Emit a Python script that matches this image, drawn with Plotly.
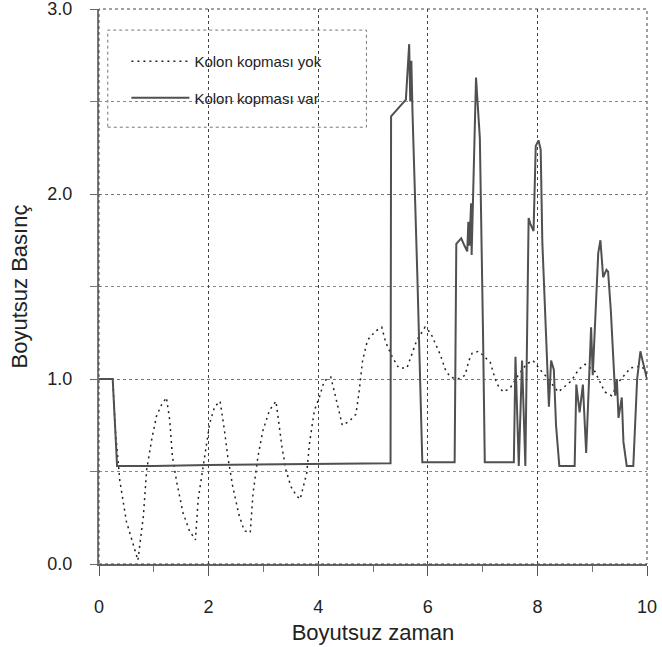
import plotly.graph_objects as go

# --- Kolon kopması yok (no column separation) ---
t_yok = [0, 0.25, 0.30, 0.38, 0.50, 0.59, 0.71, 0.81, 0.87, 0.96, 1.05, 1.14, 1.23, 1.29, 1.34,
         1.42, 1.53, 1.65, 1.76, 1.81, 1.87, 1.95, 2.02, 2.11, 2.21, 2.29, 2.35, 2.44, 2.55, 2.65,
         2.76, 2.81, 2.90, 2.99, 3.11, 3.23, 3.29, 3.34, 3.41, 3.50, 3.60, 3.67, 3.79, 3.84, 3.93,
         4.02, 4.11, 4.23, 4.32, 4.37, 4.44, 4.56, 4.69, 4.75, 4.81, 4.90, 5.05, 5.16, 5.23, 5.35,
         5.47, 5.62, 5.71, 5.80, 5.95, 6.05, 6.23, 6.32, 6.41, 6.55, 6.68, 6.75, 6.81, 6.93, 7.14,
         7.23, 7.29, 7.38, 7.50, 7.65, 7.80, 7.92, 8.05, 8.17, 8.38, 8.50, 8.62, 8.75, 8.87, 9.05,
         9.23, 9.35, 9.50, 9.70, 9.90, 10.0]
p_yok = [1.0, 1.0, 0.72, 0.45, 0.23, 0.14, 0.02, 0.26, 0.51, 0.67, 0.80, 0.86, 0.90, 0.78, 0.58,
         0.44, 0.28, 0.18, 0.13, 0.35, 0.47, 0.63, 0.76, 0.85, 0.88, 0.72, 0.58, 0.42, 0.27, 0.18,
         0.17, 0.38, 0.58, 0.72, 0.83, 0.88, 0.74, 0.63, 0.51, 0.42, 0.37, 0.35, 0.49, 0.65, 0.83,
         0.90, 0.99, 1.01, 0.90, 0.83, 0.75, 0.77, 0.81, 0.94, 1.10, 1.21, 1.26, 1.28, 1.20, 1.12,
         1.06, 1.06, 1.13, 1.21, 1.28, 1.25, 1.13, 1.05, 1.01, 1.00, 1.02, 1.10, 1.14, 1.15, 1.09,
         1.00, 0.96, 0.93, 0.95, 1.02, 1.08, 1.10, 1.05, 1.01, 0.93, 0.96, 0.99, 1.05, 1.08, 1.04,
         0.93, 0.91, 0.99, 1.06, 1.07, 1.03]

# --- Kolon kopması var (with column separation) ---
t_var = [0, 0.25, 0.33, 1.0, 2.0, 3.0, 4.0, 5.0, 5.32, 5.33, 5.60, 5.66, 5.68, 5.70, 5.72, 5.81,
         5.90, 6.20, 6.49, 6.52, 6.61, 6.67, 6.72, 6.74, 6.76, 6.79, 6.80, 6.88, 6.95, 7.01, 7.04,
         7.30, 7.57, 7.60, 7.66, 7.72, 7.78, 7.84, 7.87, 7.93, 7.97, 8.02, 8.06, 8.09, 8.12, 8.15,
         8.18, 8.21, 8.25, 8.30, 8.34, 8.40, 8.68, 8.71, 8.77, 8.83, 8.89, 8.95, 8.98, 9.01, 9.05,
         9.11, 9.15, 9.20, 9.26, 9.29, 9.34, 9.38, 9.42, 9.45, 9.48, 9.54, 9.57, 9.63, 9.75, 9.82,
         9.88, 9.91, 10.0]
p_var = [1.0, 1.0, 0.53, 0.53, 0.535, 0.537, 0.54, 0.545, 0.545, 2.42, 2.51, 2.81, 2.50, 2.72, 2.45, 1.55,
         0.55, 0.55, 0.55, 1.73, 1.76, 1.72, 1.69, 1.85, 1.72, 1.95, 1.67, 2.63, 2.30, 1.20, 0.55,
         0.55, 0.55, 1.12, 0.53, 1.10, 0.53, 1.87, 1.84, 1.80, 2.26, 2.29, 2.24, 1.74, 1.52, 1.30,
         1.11, 0.85, 1.10, 1.05, 0.75, 0.53, 0.53, 0.97, 0.82, 0.97, 0.60, 1.04, 1.28, 1.02, 1.30,
         1.68, 1.75, 1.55, 1.59, 1.58, 1.37, 1.12, 0.91, 1.00, 0.79, 0.90, 0.66, 0.53, 0.53, 1.00,
         1.15, 1.11, 1.00]

x_ticks = [0, 2, 4, 6, 8, 10]
y_ticks = [0, 1, 2, 3]
y_tick_text = ["0.0", "1.0", "2.0", "3.0"]

FONT = "Liberation Sans, Arial, sans-serif"

fig = go.Figure()
fig.add_trace(go.Scatter(x=t_yok, y=p_yok, mode="lines", name="Kolon kopması yok",
                         legendgroup="a",
                         line=dict(color="#222222", width=1.5, dash="2px,4px")))
fig.add_trace(go.Scatter(x=t_var, y=p_var, mode="lines", name="Kolon kopması var",
                         legendgroup="b",
                         line=dict(color="#505050", width=2)))

# legend box + plot frame
fig.add_shape(type="rect", xref="paper", yref="paper", x0=0.016, x1=0.488, y0=0.787, y1=0.962,
              line=dict(color="#777777", width=1, dash="dot"), fillcolor="white", layer="below")
fig.add_shape(type="rect", xref="x domain", yref="y domain", x0=0, x1=1, y0=0, y1=1,
              line=dict(color="#444444", width=1, dash="dot"), layer="above")

fig.update_layout(
    width=662, height=647,
    margin=dict(l=99, r=15, t=9, b=83, autoexpand=False),
    paper_bgcolor="white", plot_bgcolor="white",
    font=dict(family=FONT, color="#222222"),
    showlegend=True,
    legend=dict(x=0.05, y=0.935, xanchor="left", yanchor="top",
                bgcolor="rgba(0,0,0,0)", borderwidth=0,
                font=dict(size=15, family=FONT, color="#222222"),
                tracegroupgap=14, itemwidth=58),
    xaxis=dict(range=[0, 10], tickvals=x_ticks, ticktext=[str(v) for v in x_ticks],
               automargin=False,
               showgrid=True, gridcolor="#444444", griddash="dot", gridwidth=1,
               ticks="outside", ticklen=10, tickcolor="#555555", ticklabelstandoff=16,
               ticklabeloverflow="allow",
               minor=dict(dtick=1, ticks="outside", ticklen=6, tickcolor="#777777", showgrid=False),
               showline=True, linecolor="#666666", linewidth=1.5, zeroline=False,
               tickfont=dict(size=18, family=FONT, color="#222222"),
               title=dict(text="Boyutsuz zaman", font=dict(size=22, family=FONT, color="#222222"),
                          standoff=8)),
    yaxis=dict(range=[0, 3.0], tickvals=y_ticks, ticktext=y_tick_text,
               automargin=False,
               showgrid=True, gridcolor="#777777", griddash="dot", gridwidth=1,
               ticks="outside", ticklen=7, tickcolor="#666666", ticklabelstandoff=14,
               ticklabeloverflow="allow",
               minor=dict(dtick=0.5, ticks="outside", ticklen=7, tickcolor="#777777",
                          showgrid=True, gridcolor="#888888", griddash="dot", gridwidth=1),
               showline=True, linecolor="#777777", linewidth=2, zeroline=False,
               tickfont=dict(size=18, family=FONT, color="#222222"),
               title=dict(text="Boyutsuz Basınç", font=dict(size=22, family=FONT, color="#222222"),
                          standoff=14)),
)

fig.write_html("out.html")
